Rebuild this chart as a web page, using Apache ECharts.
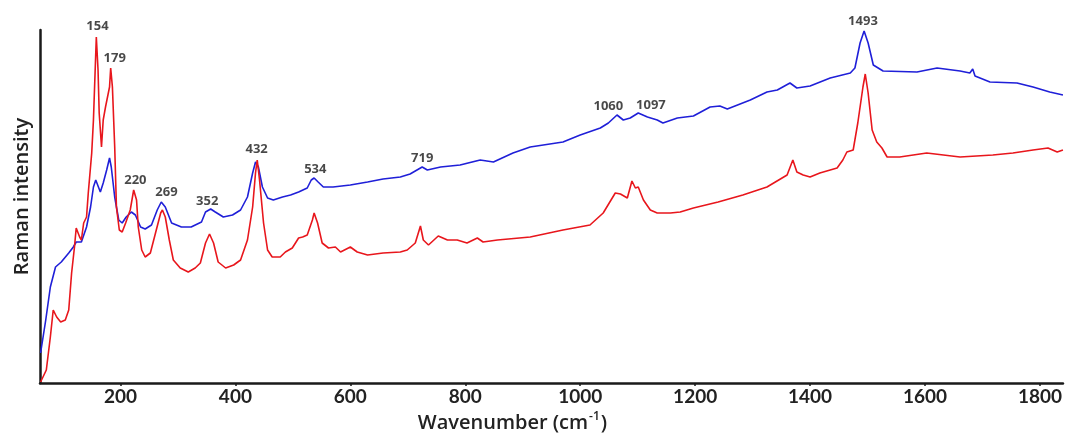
<!DOCTYPE html>
<html>
<head>
<meta charset="utf-8">
<script src="https://cdn.jsdelivr.net/npm/echarts@6.0.0/dist/echarts.min.js"></script>
<style>
html,body{margin:0;padding:0;background:#fff;}
#chart{width:1065px;height:441px;}
</style>
</head>
<body>
<div id="chart"></div>
<script>
// Wavenumber axis ticks
const xTicks = [200, 400, 600, 800, 1000, 1200, 1400, 1600, 1800];

// Red spectrum (wavenumber cm-1, intensity a.u.)
const redWavenumber = [61,71,78,83,89,96,104,110,115,120,123,129,132,136,141,144,150,153,156,158,161,163,167,170,174,177,181,183,186,190,193,198,203,209,217,223,228,231,237,243,252,261,270,273,278,285,292,304,318,330,339,348,355,362,370,383,397,409,421,430,435,438,442,449,456,464,478,487,499,510,517,525,534,537,543,551,562,574,583,600,612,630,657,687,699,713,722,727,736,753,769,786,803,821,831,856,913,970,1017,1040,1061,1070,1082,1090,1096,1101,1110,1122,1134,1157,1174,1197,1240,1283,1325,1360,1370,1377,1388,1400,1417,1447,1457,1464,1475,1483,1492,1496,1501,1508,1516,1525,1534,1556,1603,1661,1718,1753,1788,1814,1830,1840];
const redIntensity = [1,13,46,73,66,61,63,73,110,136,155,146,143,160,166,190,230,263,313,346,313,270,236,263,276,275,296,315,296,236,176,153,151,160,173,193,183,156,133,126,130,150,170,173,166,143,123,115,111,115,120,140,149,140,121,115,118,123,143,176,210,223,203,160,133,126,126,131,135,145,146,148,163,170,160,140,135,136,131,136,131,128,130,131,133,140,157,143,138,147,143,143,140,145,141,143,146,153,158,170,190,189,185,202,195,196,183,173,170,170,171,175,181,188,196,208,223,211,208,206,210,215,223,231,233,260,296,309,290,253,241,235,226,226,230,226,228,230,233,235,231,233];

// Blue spectrum (wavenumber cm-1, intensity a.u.)
const blueWavenumber = [61,70,78,87,97,110,118,123,132,141,148,153,157,165,170,176,181,184,190,197,203,210,219,226,235,243,254,264,271,278,289,306,323,341,348,357,365,379,395,409,421,430,435,440,447,456,466,482,496,510,525,532,537,544,553,570,600,630,657,687,704,725,734,757,791,826,849,883,913,970,1000,1035,1049,1064,1075,1087,1101,1117,1134,1144,1169,1197,1226,1243,1256,1296,1325,1343,1365,1377,1400,1435,1470,1478,1487,1494,1501,1510,1527,1586,1621,1661,1678,1683,1687,1713,1760,1788,1817,1840];
const blueIntensity = [30,63,96,116,121,130,136,141,141,156,176,196,203,191,200,213,225,216,186,163,160,166,171,168,156,154,158,173,181,176,160,156,156,161,171,174,171,166,168,173,186,210,221,216,196,185,183,186,188,191,195,203,205,201,196,196,198,201,204,206,209,216,213,216,218,223,221,230,236,241,248,255,260,268,263,265,270,266,263,260,265,267,276,277,274,283,291,293,300,295,297,305,310,315,340,352,340,318,312,311,315,312,310,314,307,301,300,296,291,288];

// Peak annotations: label text, wavenumber and intensity where the label sits
const peakLabels = ['154','179','220','269','352','432','534','719','1060','1097','1493'];
const peakLabelX = [160,190,226,280,351,437,539,725,1049,1123,1492];
const peakLabelY = [357,325,203,191,182,234,214,225,277,278,362];

const zip = (xs, ys) => xs.map((x, i) => [x, ys[i]]);

const chart = echarts.init(document.getElementById('chart'), null, {renderer: 'canvas'});
chart.setOption({
  animation: false,
  backgroundColor: '#ffffff',
  grid: {left: 40, right: 2, top: 30, bottom: 58, containLabel: false},
  xAxis: {
    type: 'value',
    min: 60,
    max: 1840,
    name: '{t|Wavenumber (cm}{s|-1}{t|)}',
    nameLocation: 'middle',
    nameGap: 24,
    nameTextStyle: {
      padding: [0, 78, 0, 0],
      rich: {
        t: {fontFamily: 'Open Sans', fontWeight: 600, fontSize: 20, color: '#222', lineHeight: 24},
        s: {fontFamily: 'Open Sans', fontWeight: 600, fontSize: 12, color: '#222', verticalAlign: 'top', lineHeight: 24, padding: [0, 1, 10, 1]}
      }
    },
    axisLine: {show: true, onZero: false, lineStyle: {color: '#1a1a1a', width: 2.5}},
    axisTick: {show: true, customValues: xTicks, length: 3, lineStyle: {color: '#1a1a1a', width: 1.5}},
    axisLabel: {customValues: xTicks, margin: 4, formatter: v => String(v), fontFamily: 'Lato', fontWeight: 'bold', fontSize: 19, color: '#222'},
    splitLine: {show: false}
  },
  yAxis: {
    type: 'value',
    min: 0,
    max: 353,
    name: 'Raman intensity',
    nameLocation: 'middle',
    nameGap: 8,
    nameTextStyle: {fontFamily: 'Open Sans', fontWeight: 600, fontSize: 20, color: '#222', padding: [0, 0, 0, 20]},
    axisLine: {show: true, onZero: false, lineStyle: {color: '#1a1a1a', width: 2.5}},
    axisTick: {show: false},
    axisLabel: {show: false},
    splitLine: {show: false}
  },
  series: [
    {
      name: 'blue',
      type: 'line',
      data: zip(blueWavenumber, blueIntensity),
      showSymbol: false,
      lineStyle: {color: '#1f1fd8', width: 1.6},
      itemStyle: {color: '#1f1fd8'},
      z: 2
    },
    {
      name: 'red',
      type: 'line',
      data: zip(redWavenumber, redIntensity),
      showSymbol: false,
      lineStyle: {color: '#e8161c', width: 1.6},
      itemStyle: {color: '#e8161c'},
      z: 3
    },
    {
      name: 'peaks',
      type: 'scatter',
      clip: false,
      symbolSize: 0,
      silent: true,
      data: peakLabels.map((t, i) => ({name: t, value: [peakLabelX[i], peakLabelY[i]]})),
      label: {
        show: true,
        position: 'inside',
        formatter: p => p.name,
        fontFamily: 'Open Sans',
        fontWeight: 'bold',
        fontSize: 13,
        color: '#1a1a1a'
      },
      z: 5
    }
  ]
});
</script>
</body>
</html>
